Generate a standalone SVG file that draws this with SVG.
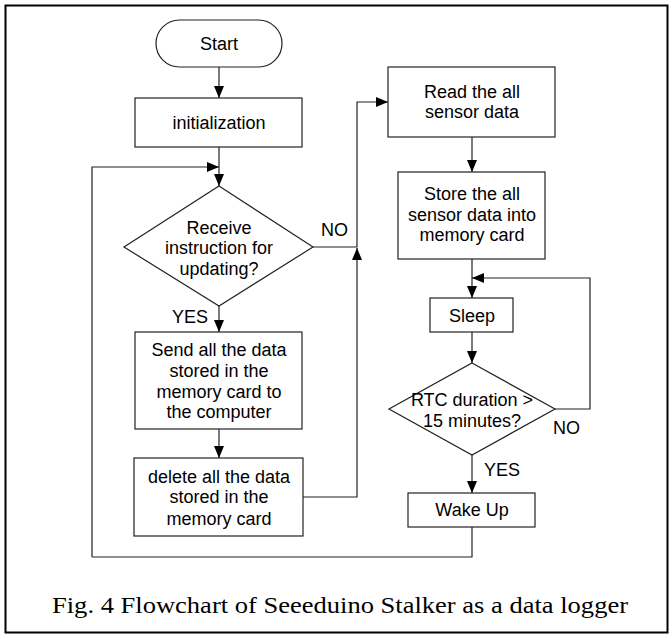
<svg xmlns="http://www.w3.org/2000/svg" width="672" height="637" viewBox="0 0 672 637">
<style>
.box{fill:#fff;stroke:#222;stroke-width:1.2}
.t{font-family:"Liberation Sans",Arial,sans-serif;font-size:18px;fill:#000;text-anchor:middle}
.lbl{font-family:"Liberation Sans",Arial,sans-serif;font-size:18px;fill:#000}
.c{fill:none;stroke:#222;stroke-width:1.2}
.cap{font-family:"Liberation Serif","Times New Roman",serif;font-size:24px;fill:#000}
</style>
<defs>
<marker id="ah" viewBox="0 0 12 10" refX="12" refY="5" markerWidth="12" markerHeight="10" markerUnits="userSpaceOnUse" orient="auto">
<path d="M0,0 L12,5 L0,10 Z" fill="#000"/>
</marker>
</defs>
<rect x="0" y="0" width="672" height="637" fill="#fff"/>
<rect x="5.5" y="5.5" width="662" height="627" fill="none" stroke="#000" stroke-width="2"/>

<g id="connectors">
<path class="c" d="M219,67 V98" marker-end="url(#ah)"/>
<path class="c" d="M219,147 V186" marker-end="url(#ah)"/>
<path class="c" d="M92,557 V167 H219" marker-end="url(#ah)"/>
<path class="c" d="M219,306 V332" marker-end="url(#ah)"/>
<path class="c" d="M219,429 V458" marker-end="url(#ah)"/>
<path class="c" d="M313,247 H357 V102 H388" marker-end="url(#ah)"/>
<path class="c" d="M303,497 H357 V248" marker-end="url(#ah)"/>
<path class="c" d="M472,137 V172" marker-end="url(#ah)"/>
<path class="c" d="M472,259 V298" marker-end="url(#ah)"/>
<path class="c" d="M555,409 H590 V278 H472" marker-end="url(#ah)"/>
<path class="c" d="M472,332 V363" marker-end="url(#ah)"/>
<path class="c" d="M472,455 V493" marker-end="url(#ah)"/>
<path class="c" d="M472,527 V557 H92"/>
<text class="lbl" x="321" y="236">NO</text>
<text class="lbl" x="172" y="323">YES</text>
<text class="lbl" x="553" y="434">NO</text>
<text class="lbl" x="484" y="476">YES</text>
</g>

<g id="start">
<rect class="box" x="156" y="20" width="126" height="47" rx="23.5"/>
<text class="t" x="219" y="50">Start</text>
</g>
<g id="init">
<rect class="box" x="135" y="98" width="167" height="49"/>
<text class="t" x="219" y="129">initialization</text>
</g>
<g id="receive">
<polygon class="box" points="219,186 313,247 219,306 124,247"/>
<text class="t" x="219" y="234">Receive</text>
<text class="t" x="219" y="254">instruction for</text>
<text class="t" x="219" y="275">updating?</text>
</g>
<g id="send">
<rect class="box" x="135" y="332" width="167" height="97"/>
<text class="t" x="219" y="356">Send all the data</text>
<text class="t" x="219" y="377">stored in the</text>
<text class="t" x="219" y="398">memory card to</text>
<text class="t" x="219" y="418">the computer</text>
</g>
<g id="delete">
<rect class="box" x="134" y="458" width="169" height="78"/>
<text class="t" x="219" y="483">delete all the data</text>
<text class="t" x="219" y="503">stored in the</text>
<text class="t" x="219" y="525">memory card</text>
</g>
<g id="read">
<rect class="box" x="388" y="67" width="167" height="70"/>
<text class="t" x="472" y="98">Read the all</text>
<text class="t" x="472" y="118">sensor data</text>
</g>
<g id="store">
<rect class="box" x="398" y="172" width="147" height="87"/>
<text class="t" x="472" y="200">Store the all</text>
<text class="t" x="472" y="221">sensor data into</text>
<text class="t" x="472" y="241">memory card</text>
</g>
<g id="sleep">
<rect class="box" x="430" y="298" width="83" height="34"/>
<text class="t" x="472" y="322">Sleep</text>
</g>
<g id="rtc">
<polygon class="box" points="472,363 555,409 472,455 389,409"/>
<text class="t" x="472" y="406">RTC duration &gt;</text>
<text class="t" x="472" y="427">15 minutes?</text>
</g>
<g id="wake">
<rect class="box" x="408" y="493" width="127" height="34"/>
<text class="t" x="472" y="516">Wake Up</text>
</g>
<text class="cap" x="52" y="613" textLength="576" lengthAdjust="spacingAndGlyphs">Fig. 4 Flowchart of Seeeduino Stalker as a data logger</text>
</svg>
